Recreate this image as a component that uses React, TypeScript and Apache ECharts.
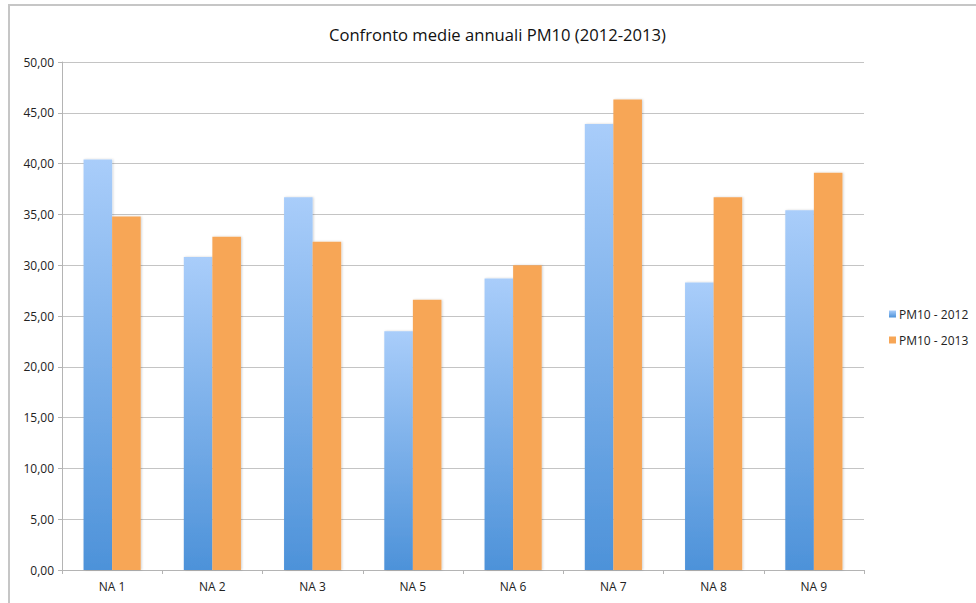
import React, { useEffect, useRef } from "react";
import * as echarts from "echarts";

const categories = ["NA 1", "NA 2", "NA 3", "NA 5", "NA 6", "NA 7", "NA 8", "NA 9"];
const pm10_2012 = [40.4, 30.8, 36.7, 23.5, 28.7, 43.9, 28.3, 35.4];
const pm10_2013 = [34.8, 32.8, 32.3, 26.6, 30.0, 46.3, 36.7, 39.1];
const seriesNames = ["PM10 - 2012", "PM10 - 2013"];

const FONT = "'Open Sans', 'Noto Sans', sans-serif";

export default function App() {
  const ref = useRef<HTMLDivElement>(null);

  useEffect(() => {
    if (!ref.current) return;
    const chart = echarts.init(ref.current, null, { renderer: "svg" });
    const blueGrad = new echarts.graphic.LinearGradient(0, 0, 0, 1, [
      { offset: 0, color: "#a9cdfa" },
      { offset: 1, color: "#4d92d9" },
    ]);
    chart.setOption({
      animation: false,
      backgroundColor: "#ffffff",
      textStyle: { fontFamily: FONT },
      title: {
        text: "Confronto medie annuali PM10 (2012-2013)",
        left: 324,
        top: 21,
        textStyle: { fontFamily: FONT, fontSize: 16.6, fontWeight: "normal", color: "#111" },
      },
      graphic: [
        {
          type: "rect",
          shape: { x: 9, y: 5, width: 1100, height: 800 },
          style: { fill: "none", stroke: "#c6c6c6", lineWidth: 2 },
          silent: true,
        },
      ],
      legend: {
        orient: "vertical",
        left: 884,
        top: 303,
        itemWidth: 7,
        itemHeight: 7,
        itemGap: 14,
        icon: "rect",
        textStyle: { fontFamily: FONT, fontSize: 12, color: "#222", padding: [0, 0, 0, -2] },
        data: seriesNames,
      },
      grid: { left: 62, right: 112, top: 62, bottom: 33, containLabel: false },
      xAxis: {
        type: "category",
        data: categories,
        axisLine: { lineStyle: { color: "#b4b4b4", width: 1 } },
        axisTick: { show: true, length: 4, lineStyle: { color: "#b4b4b4" } },
        axisLabel: { fontFamily: FONT, fontSize: 12, color: "#222", margin: 10 },
      },
      yAxis: {
        type: "value",
        min: 0,
        max: 50,
        interval: 5,
        axisLine: { show: true, lineStyle: { color: "#b4b4b4", width: 1 } },
        axisTick: { show: true, length: 4, lineStyle: { color: "#b4b4b4" } },
        splitLine: { lineStyle: { color: "#c4c4c4", width: 1 } },
        axisLabel: {
          fontFamily: FONT,
          fontSize: 12,
          color: "#222",
          margin: 8,
          formatter: (v: number) => v.toFixed(2).replace(".", ","),
        },
      },
      series: [
        {
          name: seriesNames[0],
          type: "bar",
          data: pm10_2012,
          barGap: "0%",
          barCategoryGap: "43%",
          itemStyle: {
            color: blueGrad,
            shadowBlur: 2,
            shadowColor: "rgba(0,0,0,0.18)",
            shadowOffsetX: 1,
          },
        },
        {
          name: seriesNames[1],
          type: "bar",
          data: pm10_2013,
          barGap: "0%",
          barCategoryGap: "43%",
          itemStyle: {
            color: "#f7a656",
            shadowBlur: 2,
            shadowColor: "rgba(0,0,0,0.18)",
            shadowOffsetX: 1,
          },
        },
      ],
    });
    return () => chart.dispose();
  }, []);

  return (
    <div
      ref={ref}
      style={{ position: "fixed", left: 0, top: 0, width: 976, height: 603 }}
    />
  );
}
